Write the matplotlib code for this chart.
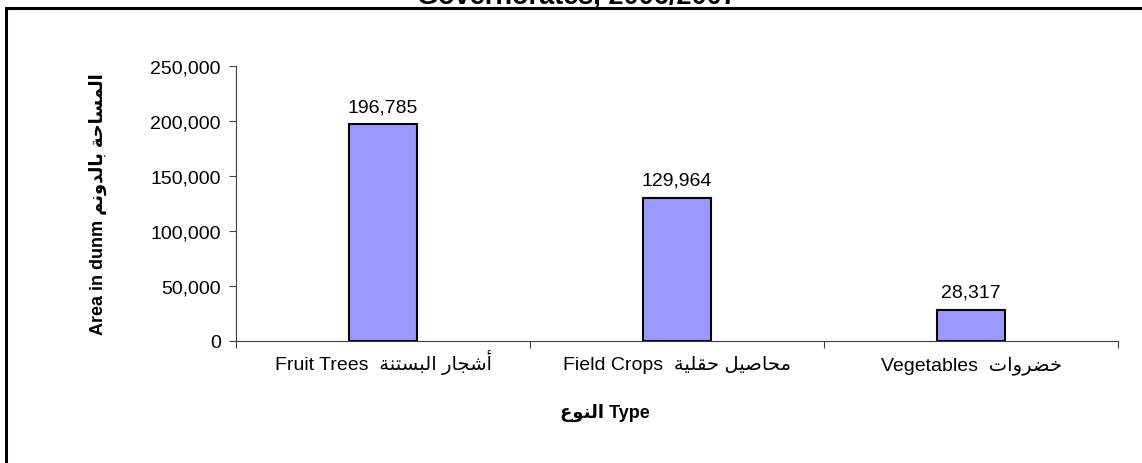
import matplotlib
matplotlib.use("Agg")
import matplotlib.pyplot as plt
from matplotlib.patches import Rectangle

# data
categories_en = ["Fruit Trees", "Field Crops", "Vegetables"]
categories_ar = ["أشجار البستنة", "محاصيل حقلية", "خضروات"]
areas = [196785, 129964, 28317]
y_ticks = [0, 50000, 100000, 150000, 200000, 250000]

title_text = "Governorates, 2006/2007"
ylabel_en = "Area in dunm"
ylabel_ar = "المساحة بالدونم"
xlabel_en = "Type"
xlabel_ar = "النوع"

# minimal arabic shaping (isolated, final, initial, medial)
FORMS = {
    "ا": (0xFE8D, 0xFE8E, None, None),
    "أ": (0xFE83, 0xFE84, None, None),
    "ب": (0xFE8F, 0xFE90, 0xFE91, 0xFE92),
    "ة": (0xFE93, 0xFE94, None, None),
    "ت": (0xFE95, 0xFE96, 0xFE97, 0xFE98),
    "ج": (0xFE9D, 0xFE9E, 0xFE9F, 0xFEA0),
    "ح": (0xFEA1, 0xFEA2, 0xFEA3, 0xFEA4),
    "خ": (0xFEA5, 0xFEA6, 0xFEA7, 0xFEA8),
    "د": (0xFEA9, 0xFEAA, None, None),
    "ر": (0xFEAD, 0xFEAE, None, None),
    "س": (0xFEB1, 0xFEB2, 0xFEB3, 0xFEB4),
    "ش": (0xFEB5, 0xFEB6, 0xFEB7, 0xFEB8),
    "ص": (0xFEB9, 0xFEBA, 0xFEBB, 0xFEBC),
    "ض": (0xFEBD, 0xFEBE, 0xFEBF, 0xFEC0),
    "ع": (0xFEC9, 0xFECA, 0xFECB, 0xFECC),
    "ق": (0xFED5, 0xFED6, 0xFED7, 0xFED8),
    "ل": (0xFEDD, 0xFEDE, 0xFEDF, 0xFEE0),
    "م": (0xFEE1, 0xFEE2, 0xFEE3, 0xFEE4),
    "ن": (0xFEE5, 0xFEE6, 0xFEE7, 0xFEE8),
    "و": (0xFEED, 0xFEEE, None, None),
    "ي": (0xFEF1, 0xFEF2, 0xFEF3, 0xFEF4),
}


def joins_next(ch):
    return ch in FORMS and FORMS[ch][2] is not None


def shape(text):
    out = []
    for i, ch in enumerate(text):
        if ch not in FORMS:
            out.append(ch)
            continue
        prev = text[i - 1] if i > 0 else ""
        nxt = text[i + 1] if i + 1 < len(text) else ""
        p = joins_next(prev)
        n = joins_next(ch) and nxt in FORMS
        iso, fin, ini, med = FORMS[ch]
        if p and n:
            code = med
        elif p:
            code = fin
        elif n:
            code = ini
        else:
            code = iso
        out.append(chr(code))
    return "".join(out)[::-1]


FAM = ["Liberation Sans", "DejaVu Sans"]
plt.rcParams["font.family"] = FAM

fig = plt.figure(figsize=(11.42, 4.64), dpi=100)
ax = fig.add_axes([0.2067, 0.263, 0.7723, 0.593])

x = list(range(len(areas)))
ax.bar(x, areas, width=0.23, color="#9999FF", edgecolor="black", linewidth=1.5)

for xi, v in zip(x, areas):
    ax.text(xi, v + 8500, f"{v:,}", ha="center", va="bottom", fontsize=14)

ax.set_xlim(-0.5, len(areas) - 0.5)
ax.set_ylim(0, 250000)
ax.set_yticks(y_ticks)
ax.set_yticklabels([f"{t:,}" for t in y_ticks], fontsize=14)

# category labels sit on a common baseline
ax.set_xticks([])
for xi, en, ar in zip(x, categories_en, categories_ar):
    ax.text(xi, -0.102, f"{en}  {shape(ar)}", transform=ax.get_xaxis_transform(),
            ha="center", va="baseline", fontsize=14)
ax.set_xticks([-0.5, 0.5, 1.5, 2.5], minor=True)
ax.tick_params(axis="x", which="minor", length=5, width=0.8, color="#404040")
ax.tick_params(axis="y", length=5, width=0.8, color="#404040", pad=6)

for s in ["top", "right"]:
    ax.spines[s].set_visible(False)
for s in ["left", "bottom"]:
    ax.spines[s].set_color("#404040")
    ax.spines[s].set_linewidth(0.8)

ax.set_ylabel(f"{ylabel_en} {shape(ylabel_ar)}", fontsize=13, fontweight="bold")
ax.yaxis.set_label_coords(-0.146, 0.5)
ax.set_xlabel(f"{shape(xlabel_ar)} {xlabel_en}", fontsize=13, fontweight="bold")
ax.xaxis.set_label_coords(0.418, -0.225)

# outer chart border, running off the right and bottom edges
fig.patches.append(Rectangle((6 / 1142, -0.1), 1.2, 1 - 8.5 / 464 + 0.1,
                             transform=fig.transFigure, fill=False,
                             edgecolor="black", linewidth=2.2))

# title, mostly cut off at the top
fig.text(577 / 1142, 1 - 3.5 / 464, title_text, ha="center", va="baseline",
         fontsize=19.5, fontweight="bold")

fig.savefig("out.png", dpi=100)
